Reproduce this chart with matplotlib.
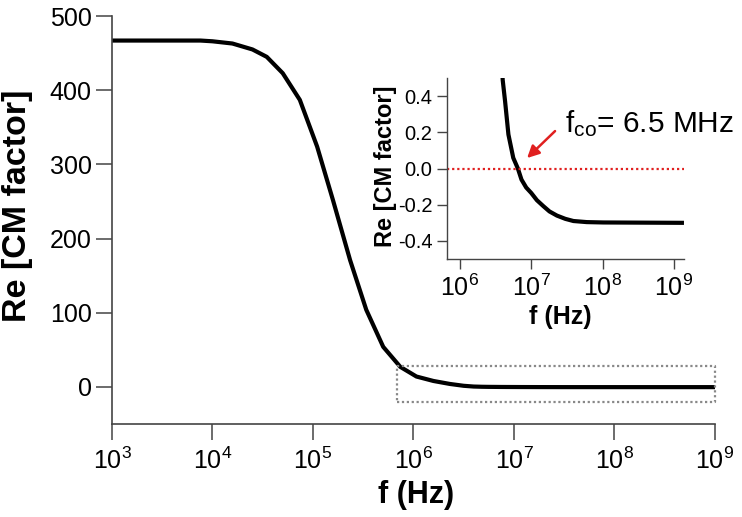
import numpy as np
import matplotlib
matplotlib.use("Agg")
from matplotlib import pyplot as plt
from matplotlib.ticker import NullLocator, FixedLocator, FormatStrFormatter, LogFormatterSciNotation

plt.rcParams['font.family'] = ['Liberation Sans', 'DejaVu Sans']
plt.rcParams['mathtext.fontset'] = 'custom'
plt.rcParams['mathtext.rm'] = 'Liberation Sans'
plt.rcParams['mathtext.it'] = 'Liberation Sans:italic'
plt.rcParams['mathtext.bf'] = 'Liberation Sans:bold'

# Re[CM factor]
freq_hz = [1e3, 3.16e3, 7.6e3, 1e4, 1.58e4, 2.5e4, 3.47e4, 5.0e4, 7.4e4,
           1.1e5, 1.58e5, 2.34e5, 3.39e5, 5.0e5, 7.4e5, 1.07e6, 1.58e6,
           2.3e6, 3.16e6, 3.98e6, 4.3e6, 4.79e6, 5.6e6, 6.5e6, 7.3e6,
           8.5e6, 1e7, 1.2e7, 1.48e7, 1.8e7, 2.29e7, 3.0e7, 3.9e7, 6e7,
           1.02e8, 1.29e9]
re_cm = [467, 467, 467, 466, 463, 455, 445, 423, 387,
         324, 252, 171, 104, 54, 27, 14, 8,
         4, 1.5, 0.49, 0.372, 0.188, 0.059, 0.0, -0.061,
         -0.105, -0.135, -0.175, -0.208, -0.237, -0.26, -0.278, -0.29, -0.296,
         -0.298, -0.30]

f_crossover = 6.5  # MHz
zoom_box_f = [6.85e5, 1e9]
zoom_box_y = [-20, 28]

main_xticks = [1e3, 1e4, 1e5, 1e6, 1e7, 1e8, 1e9]
main_yticks = [0, 100, 200, 300, 400, 500]
inset_xticks = [1e6, 1e7, 1e8, 1e9]
inset_yticks = [-0.4, -0.2, 0.0, 0.2, 0.4]

axis_col = '#444444'

fig = plt.figure(figsize=(7.42, 5.17), dpi=100)

# ---- main axes ----
ax = fig.add_axes([0.1509, 0.1799, 0.8127, 0.789])
ax.plot(freq_hz, re_cm, color='black', lw=3.0, solid_joinstyle='round')
ax.set_xscale('log')
ax.set_xlim(1e3, 1e9)
ax.set_ylim(-50, 500)
ax.xaxis.set_major_locator(FixedLocator(main_xticks))
ax.xaxis.set_major_formatter(LogFormatterSciNotation())
ax.xaxis.set_minor_locator(NullLocator())
ax.yaxis.set_major_locator(FixedLocator(main_yticks))

# dotted box marking the zoomed region
bx = [zoom_box_f[0], zoom_box_f[1], zoom_box_f[1], zoom_box_f[0], zoom_box_f[0]]
by = [zoom_box_y[0], zoom_box_y[0], zoom_box_y[1], zoom_box_y[1], zoom_box_y[0]]
ax.plot(bx, by, color='#888888', lw=1.6, ls=(0, (1, 1.2)), clip_on=False)

for s in ['top', 'right']:
    ax.spines[s].set_visible(False)
for s in ['left', 'bottom']:
    ax.spines[s].set_color(axis_col)
    ax.spines[s].set_linewidth(1.2)
ax.tick_params(axis='both', direction='out', length=11.5, width=1.1,
               color=axis_col, labelsize=18)
ax.tick_params(axis='x', pad=5.5)
ax.tick_params(axis='y', pad=3)

ax.set_xlabel('f (Hz)', fontsize=22, fontweight='bold')
ax.set_ylabel('Re [CM factor]', fontsize=24.5, fontweight='bold')
ax.xaxis.set_label_coords(0.504, -0.137)
ax.yaxis.set_label_coords(-0.131, 0.534)

# ---- inset ----
axi = fig.add_axes([0.6024, 0.499, 0.3194, 0.350])
axi.plot(freq_hz, re_cm, color='black', lw=3.0, solid_joinstyle='round')
axi.axhline(0, color='#e02020', lw=1.6, ls=(0, (1, 1.3)))
axi.set_xscale('log')
axi.set_xlim(6.6e5, 1.38e9)
axi.set_ylim(-0.5, 0.5)
axi.xaxis.set_major_locator(FixedLocator(inset_xticks))
axi.xaxis.set_major_formatter(LogFormatterSciNotation())
axi.xaxis.set_minor_locator(NullLocator())
axi.yaxis.set_major_locator(FixedLocator(inset_yticks))
axi.yaxis.set_major_formatter(FormatStrFormatter('%.1f'))

for s in ['top', 'right']:
    axi.spines[s].set_visible(False)
for s in ['left', 'bottom']:
    axi.spines[s].set_color(axis_col)
    axi.spines[s].set_linewidth(1.0)
axi.tick_params(axis='both', direction='out', length=7, width=1.0,
                color=axis_col)
axi.tick_params(axis='x', labelsize=18, pad=4.5)
axi.tick_params(axis='y', labelsize=14.5, pad=3.5)

axi.set_xlabel('f (Hz)', fontsize=18, fontweight='bold')
axi.set_ylabel('Re [CM factor]', fontsize=17, fontweight='bold')
axi.xaxis.set_label_coords(0.477, -0.254)
axi.yaxis.set_label_coords(-0.211, 0.514)

axi.annotate('', xy=(0.338, 0.558), xytext=(0.456, 0.707),
             xycoords='axes fraction', textcoords='axes fraction',
             arrowprops=dict(arrowstyle='-|>', color='#e02020', lw=1.8,
                             mutation_scale=18, shrinkA=0, shrinkB=0))
axi.text(0.498, 0.702, r'f$_{\mathregular{co}}$= %.1f MHz' % f_crossover,
         transform=axi.transAxes, fontsize=21.5, va='baseline', ha='left',
         clip_on=False)

fig.savefig('out.png', dpi=100)
